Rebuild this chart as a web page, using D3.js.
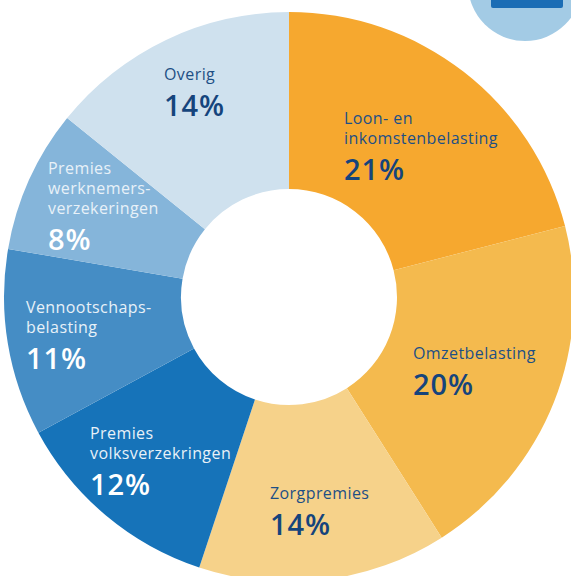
<!DOCTYPE html>
<html><head><meta charset="utf-8"><script src="https://cdn.jsdelivr.net/npm/d3@7"></script>
<style>html,body{margin:0;padding:0;background:#fff}svg{display:block}text{font-family:"Open Sans",sans-serif}</style></head>
<body><div id="c"></div><script>
const categories=[["Loon- en","inkomstenbelasting"],["Omzetbelasting"],["Zorgpremies"],["Premies","volksverzekringen"],["Vennootschaps-","belasting"],["Premies","werknemers-","verzekeringen"],["Overig"]];
const values=[21,20,14.1,12,10.6,8.1,14.2];
const percentLabels=["21%","20%","14%","12%","11%","8%","14%"];
const colors=["#f6a82f","#f4ba4e","#f6d28a","#1673b9","#458dc5","#85b5da","#cfe1ee"];
const labelColors=["#1d4f85","#1d4f85","#1d4f85","#e8f1f8","#e8f1f8","#e8f1f8","#1d4f85"];
const percentColors=["#15447c","#15447c","#15447c","#fff","#fff","#fff","#15447c"];
const labelX=[344,413,270,90,26,48,164],labelY=[124,359,499,439,313,174,80];
const W=571,H=576,cx=289,cy=297,R=285,r=108;
const svg=d3.select("#c").append("svg").attr("width",W).attr("height",H);
svg.append("circle").attr("cx",525).attr("cy",-16).attr("r",57).attr("fill","#a3cbe5");
svg.append("rect").attr("x",491).attr("y",-10).attr("width",72).attr("height",18).attr("rx",2).attr("fill","#1a6db5");
const pie=d3.pie().sort(null)(values);
const arc=d3.arc().innerRadius(r).outerRadius(R);
const g=svg.append("g").attr("transform",`translate(${cx},${cy})`);
g.selectAll("path").data(pie).join("path").attr("d",arc).attr("fill",(d,i)=>colors[i]);
categories.forEach((lines,i)=>{
  const t=svg.append("g").attr("transform",`translate(${labelX[i]},${labelY[i]})`).attr("fill",labelColors[i]);
  lines.forEach((s,j)=>t.append("text").attr("y",j*20).attr("font-size",16).attr("letter-spacing",0.42).text(s));
  t.append("text").attr("y",(lines.length-1)*20+36).attr("font-size",29).attr("font-weight",600).attr("letter-spacing",0.9).attr("fill",percentColors[i]).text(percentLabels[i]);
});
</script></body></html>
